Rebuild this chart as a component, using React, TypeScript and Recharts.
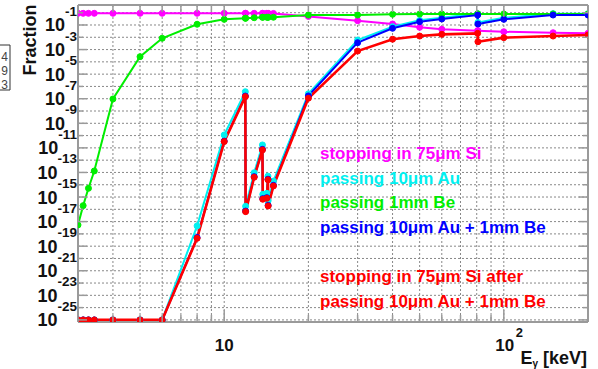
import React from 'react';
import { LineChart, Line, XAxis, YAxis, CartesianGrid, ReferenceLine } from 'recharts';

// Photon energy in keV (duplicated energies = absorption edges of Au)
const energiesKeV = [3.0, 3.13, 3.27, 3.43, 4, 5, 6, 8, 10, 11.9, 11.93, 12.8, 13.7, 13.74, 14.2, 14.34, 14.36, 15, 20, 30, 40, 50, 60, 80.6, 80.8, 100, 150, 200];

// log10(fraction) for each series
const stopSi = [-0.05, -0.05, -0.05, -0.05, -0.05, -0.05, -0.05, -0.05, -0.05, -0.05, -0.05, -0.05, -0.05, -0.05, -0.05, -0.05, -0.05, -0.06, -0.3, -0.65, -0.92, -1.19, -1.35, -1.46, -1.46, -1.55, -1.63, -1.68];
const passAu = [-25, -25, -25, -25, -25, -25, -25, -17.35, -9.95, -6.43, -15.75, -13.02, -10.76, -14.78, -14.7, -13.3, -15.3, -13.7, -6.6, -2.22, -1.14, -0.62, -0.4, -0.08, -0.8, -0.42, -0.08, -0.08];
const passBe = [-17.27, -15.7, -14.29, -12.88, -7.02, -3.58, -2.08, -0.94, -0.54, -0.45, -0.45, -0.41, -0.37, -0.37, -0.37, -0.37, -0.37, -0.37, -0.19, -0.19, -0.13, -0.11, -0.1, -0.1, -0.1, -0.1, -0.1, -0.1];
const passAuBe = [-25, -25, -25, -25, -25, -25, -25, -18.3, -10.45, -6.78, -16.14, -13.34, -11.12, -15.13, -15.05, -13.55, -15.68, -14.05, -6.77, -2.44, -1.27, -0.73, -0.51, -0.19, -0.92, -0.54, -0.19, -0.19];
const stopSiAfter = [-25, -25, -25, -25, -25, -25, -25, -18.36, -10.49, -6.83, -16.19, -13.39, -11.17, -15.18, -15.1, -13.6, -15.73, -14.1, -6.96, -3.12, -2.16, -1.9, -1.76, -1.68, -2.36, -2.03, -1.9, -1.81];

const xTickEnergies = [3, 4, 5, 6, 7, 8, 9, 10, 20, 30, 40, 50, 60, 70, 80, 90, 100, 200];
const yTickExps = [0, -1, -2, -3, -4, -5, -6, -7, -8, -9, -10, -11, -12, -13, -14, -15, -16, -17, -18, -19, -20, -21, -22, -23, -24, -25];
const yLabelExps = [-1, -3, -5, -7, -9, -11, -13, -15, -17, -19, -21, -23, -25];

const legendLines = [
  { text: 'stopping in 75\u03bcm Si', color: '#ff00ff' },
  { text: 'passing 10\u03bcm Au', color: '#00f0f0' },
  { text: 'passing 1mm Be', color: '#00ee00' },
  { text: 'passing 10\u03bcm Au + 1mm Be', color: '#0000ff' },
  { text: '', color: '#ff0000' },
  { text: 'stopping in 75\u03bcm Si after', color: '#ff0000' },
  { text: 'passing 10\u03bcm Au + 1mm Be', color: '#ff0000' },
];
const statsDigits = ['4', '9', '3'];

const X_MIN = 3;
const X_MAX = 200;
const Y_MIN = -25.17;
const Y_MAX = 0.627;

const W = 598;
const H = 369;
const PLOT_LEFT = 78;
const PLOT_RIGHT = 588;
const PLOT_TOP = 5;
const PLOT_BOTTOM = 322;

const FONT = '"Liberation Sans", Arial, Helvetica, sans-serif';
const FRAME = '#9a9a9a';

const data = energiesKeV.map((e, i) => ({
  lx: Math.log10(e),
  si: stopSi[i],
  au: passAu[i],
  be: passBe[i],
  aube: passAuBe[i],
  after: stopSiAfter[i],
}));

const XTick = (props: any) => {
  const { x, payload } = props;
  const v = Math.round(Math.pow(10, payload.value));
  const decade = v === 10 || v === 100;
  const len = decade ? 12 : 7;
  return (
    <g>
      <line x1={x} x2={x} y1={PLOT_BOTTOM} y2={PLOT_BOTTOM - len} stroke={FRAME} strokeWidth={1.5} />
      <line x1={x} x2={x} y1={PLOT_TOP} y2={PLOT_TOP + len} stroke={FRAME} strokeWidth={1.5} />
      {v === 10 && (
        <text x={x} y={351} textAnchor="middle" fontFamily={FONT} fontWeight="bold" fontSize={17} fill="#111">10</text>
      )}
      {v === 100 && (
        <g>
          <text x={x + 1} y={351} textAnchor="middle" fontFamily={FONT} fontWeight="bold" fontSize={17} fill="#111">10</text>
          <text x={x + 12} y={337} textAnchor="start" fontFamily={FONT} fontWeight="bold" fontSize={13} fill="#111">2</text>
        </g>
      )}
    </g>
  );
};

const YTick = (props: any) => {
  const { y, payload } = props;
  const e = Math.round(payload.value);
  const labeled = yLabelExps.includes(e);
  const len = labeled ? 9 : 5;
  return (
    <g>
      <line x1={PLOT_LEFT} x2={PLOT_LEFT + len} y1={y} y2={y} stroke={FRAME} strokeWidth={1.5} />
      <line x1={PLOT_RIGHT - len} x2={PLOT_RIGHT} y1={y} y2={y} stroke={FRAME} strokeWidth={1.5} />
      {labeled && (
        <text x={77} y={y + 6.5} textAnchor="end" fontFamily={FONT} fontWeight="bold" fontSize={18} fill="#111">
          10<tspan dy={-15.5} fontSize={13.5}>{`${e}`}</tspan>
        </text>
      )}
    </g>
  );
};

const series = [
  { key: 'si', color: '#ff00ff', width: 2 },
  { key: 'au', color: '#00f0f0', width: 2 },
  { key: 'be', color: '#00ee00', width: 2 },
  { key: 'aube', color: '#0000ff', width: 2 },
  { key: 'after', color: '#ff0000', width: 2.6 },
];

export default function App() {
  return (
    <div style={{ position: 'absolute', left: 0, top: 0, width: W, height: H, background: '#fff' }}>
      <LineChart width={W} height={H} data={data} margin={{ top: PLOT_TOP, right: W - PLOT_RIGHT, bottom: 0, left: 0 }}>
        <CartesianGrid stroke="#888" strokeDasharray="2 2" strokeWidth={1} />
        <XAxis
          type="number"
          dataKey="lx"
          domain={[Math.log10(X_MIN), Math.log10(X_MAX)]}
          ticks={xTickEnergies.map((e) => Math.log10(e))}
          interval={0}
          allowDataOverflow
          height={H - PLOT_BOTTOM}
          axisLine={false}
          tickLine={false}
          tick={<XTick />}
        />
        <YAxis
          type="number"
          domain={[Y_MIN, Y_MAX]}
          ticks={yTickExps}
          interval={0}
          allowDataOverflow
          width={PLOT_LEFT}
          axisLine={false}
          tickLine={false}
          tick={<YTick />}
        />
        {series.map((s) => (
          <Line
            key={s.key}
            type="linear"
            dataKey={s.key}
            stroke={s.color}
            strokeWidth={s.width}
            dot={{ r: 3, fill: s.color, stroke: s.color, strokeWidth: 1 }}
            activeDot={false}
            isAnimationActive={false}
          />
        ))}
        <ReferenceLine y={Y_MAX} stroke={FRAME} strokeWidth={2} ifOverflow="visible" />
        <ReferenceLine y={Y_MIN} stroke={FRAME} strokeWidth={2} ifOverflow="visible" />
        <ReferenceLine x={Math.log10(X_MIN)} stroke={FRAME} strokeWidth={2} ifOverflow="visible" />
        <ReferenceLine x={Math.log10(X_MAX)} stroke={FRAME} strokeWidth={2} ifOverflow="visible" />
      </LineChart>
      <svg width={W} height={H} style={{ position: 'absolute', left: 0, top: 0, pointerEvents: 'none' }}>
        <text
          x={36}
          y={40}
          transform="rotate(-90 36 40)"
          textAnchor="middle"
          fontFamily={FONT}
          fontWeight="bold"
          fontSize={18}
          fill="#111"
        >
          Fraction
        </text>
        <text x={587} y={364} textAnchor="end" fontFamily={FONT} fontWeight="bold" fontSize={18} fill="#111">
          E<tspan fontSize={10} dy={3}>{'\u03b3'}</tspan>
          <tspan dy={-3}>{' [keV]'}</tspan>
        </text>
        {legendLines.map((l, i) => (
          <text key={i} x={320} y={159 + i * 24.6} fontFamily={FONT} fontWeight="bold" fontSize={17} fill={l.color}>
            {l.text}
          </text>
        ))}
        <line x1={0} x2={10} y1={45} y2={45} stroke="#333" strokeWidth={1} />
        <line x1={10} x2={10} y1={45} y2={90} stroke="#333" strokeWidth={1} />
        <line x1={0} x2={10} y1={90} y2={90} stroke="#333" strokeWidth={1} />
        {statsDigits.map((d, i) => (
          <text key={i} x={8} y={61 + i * 14} textAnchor="end" fontFamily={FONT} fontSize={12} fill="#444">
            {d}
          </text>
        ))}
      </svg>
    </div>
  );
}
